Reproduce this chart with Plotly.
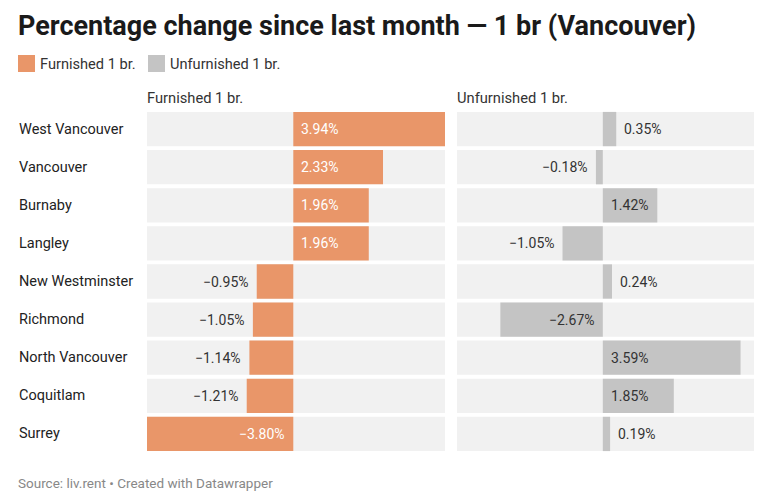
import plotly.graph_objects as go

cities = ["West Vancouver", "Vancouver", "Burnaby", "Langley", "New Westminster",
          "Richmond", "North Vancouver", "Coquitlam", "Surrey"]
furnished = [3.94, 2.33, 1.96, 1.96, -0.95, -1.05, -1.14, -1.21, -3.80]
unfurnished = [0.35, -0.18, 1.42, -1.05, 0.24, -2.67, 3.59, 1.85, 0.19]
series_names = ["Furnished 1 br.", "Unfurnished 1 br."]

ORANGE = "#e99669"
GRAY = "#c4c4c4"
BG = "#f1f1f1"
FONT = "Roboto"
OFF = 8                     # page body margin
W, H = 764 - OFF, 495 - OFF
TPAD = 2                    # annotation inner padding


def px(x):
    return (x - OFF) / W


def tx(x):
    return (x - OFF - TPAD) / W


def py(y):
    return 1 - (y - OFF) / H


xmin = min(furnished + unfurnished)
xmax = max(furnished + unfurnished)

fig = go.Figure()

panels = [
    (furnished, ORANGE, "white", "x", (147, 445)),
    (unfurnished, GRAY, "#333333", "x2", (457, 754)),
]

annotations = []
for (vals, color, intext, xa, _), name in zip(panels, series_names):
    fig.add_trace(go.Bar(
        y=cities, x=[xmax - xmin] * len(cities), base=[xmin] * len(cities),
        orientation="h", marker=dict(color=BG, line=dict(width=0)),
        xaxis=xa, yaxis="y", hoverinfo="skip", showlegend=False))
    fig.add_trace(go.Bar(
        y=cities, x=vals, orientation="h", name=name,
        marker=dict(color=color, line=dict(width=0)),
        xaxis=xa, yaxis="y", showlegend=False))
    for c, v in zip(cities, vals):
        txt = ("−" if v < 0 else "") + f"{abs(v):.2f}%"
        inside = abs(v) >= 1.3
        anc = "left" if v > 0 else "right"
        sh = 6 if v > 0 else -6
        if inside:
            ax, col = 0, intext
        else:
            ax, col = v, "#333333"
        annotations.append(dict(
            x=ax, y=c, xref=xa, yref="y", text=txt, showarrow=False,
            xanchor=anc, xshift=sh, yanchor="middle",
            font=dict(family=FONT, size=14, color=col)))

# category labels
for c in cities:
    annotations.append(dict(x=tx(19), y=c, xref="paper", yref="y", text=c,
                            showarrow=False, xanchor="left", yanchor="middle",
                            font=dict(family=FONT, size=14.5, color="#222222")))

# panel headers
for name, (_, _, _, _, (x0, x1)) in zip(series_names, panels):
    annotations.append(dict(x=tx(x0), y=py(98), xref="paper", yref="paper",
                            text=name, showarrow=False, xanchor="left", yanchor="middle",
                            font=dict(family=FONT, size=14.7, color="#333333")))

# title
annotations.append(dict(x=tx(18), y=py(26), xref="paper", yref="paper",
                        text="<b>Percentage change since last month — 1 br (Vancouver)</b>",
                        showarrow=False, xanchor="left", yanchor="middle",
                        font=dict(family=FONT, size=27, color="#1a1a1a")))
# legend
leg = [(18, 40, ORANGE, series_names[0]), (148, 170, GRAY, series_names[1])]
shapes = []
for sx, lx, col, name in leg:
    shapes.append(dict(type="rect", xref="paper", yref="paper",
                       x0=px(sx), x1=px(sx + 17), y0=py(72), y1=py(55),
                       fillcolor=col, line=dict(width=0)))
    annotations.append(dict(x=tx(lx), y=py(64), xref="paper", yref="paper",
                            text=name, showarrow=False, xanchor="left", yanchor="middle",
                            font=dict(family=FONT, size=14.6, color="#333333")))
# source
annotations.append(dict(x=tx(18), y=py(483), xref="paper", yref="paper",
                        text="Source: liv.rent • Created with Datawrapper",
                        showarrow=False, xanchor="left", yanchor="middle",
                        font=dict(family=FONT, size=13.5, color="#888888")))

ax_common = dict(range=[xmin, xmax], showgrid=False, zeroline=False,
                 showticklabels=False, fixedrange=True)
fig.update_layout(
    width=W, height=H, margin=dict(l=0, r=0, t=0, b=0),
    paper_bgcolor="white", plot_bgcolor="white",
    barmode="overlay", bargap=0.1,
    xaxis=dict(domain=[px(147), px(445)], **ax_common),
    xaxis2=dict(domain=[px(457), px(754)], anchor="y", **ax_common),
    yaxis=dict(domain=[py(453), py(110)], autorange="reversed",
               showticklabels=False, showgrid=False, zeroline=False),
    annotations=annotations, shapes=shapes, showlegend=False,
    font=dict(family=FONT),
)

fig.write_html("out.html")
